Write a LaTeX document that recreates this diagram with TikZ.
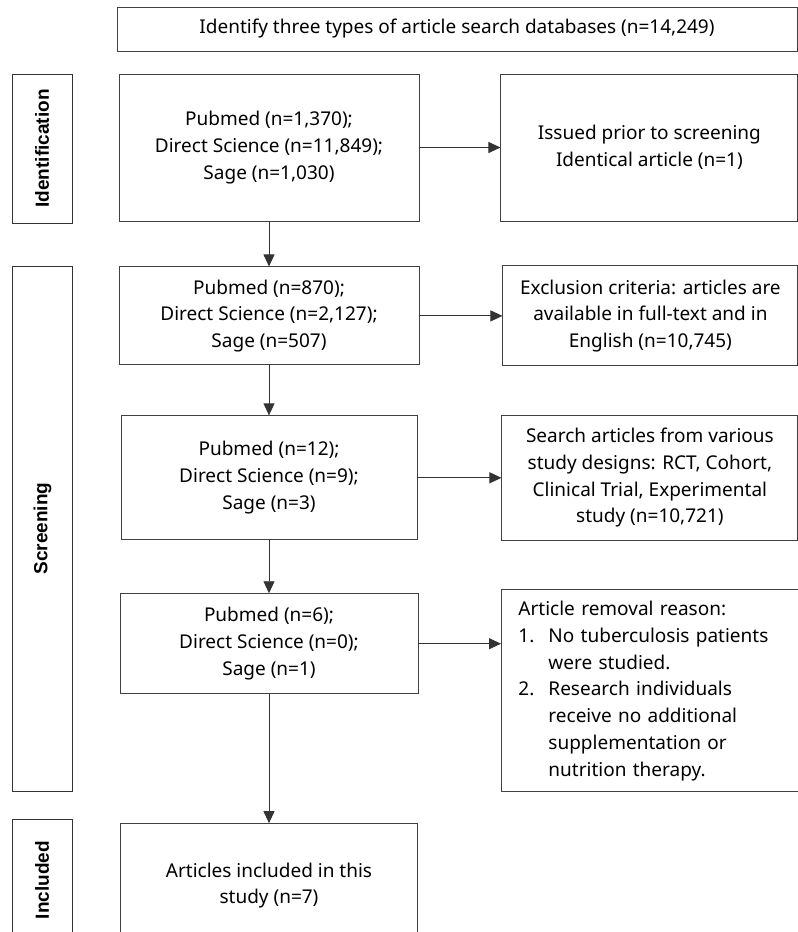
\documentclass[tikz,border=0pt]{standalone}
\usepackage{fontspec}
\setmainfont{Noto Sans}
\newfontfamily\sidefont{Liberation Sans}
\usetikzlibrary{arrows.meta,positioning}

\begin{document}
\begin{tikzpicture}[x=1pt,y=-1pt,
    font=\fontsize{19}{26.8}\selectfont,
    box/.style={draw=black!75,line width=0.9pt,align=center,inner sep=4pt},
    side/.style={draw=black!80,line width=1pt,rotate=90,minimum height=60pt,
      font=\sidefont\bfseries\fontsize{19}{22}\selectfont},
    arr/.style={-{Triangle[length=12pt,width=11pt]},line width=0.9pt,draw=black!80}]
 \useasboundingbox (0,0) rectangle (798,932);
 \clip (0,0) rectangle (798,932);
 % top banner
 \node[box,minimum width=680pt,minimum height=44pt] (TOP) at (457,29)
  {Identify three types of article search databases (n=14,249)};
 % main column
 \node[box,minimum width=300pt,minimum height=147pt] (S1) at (269,147.5)
  {Pubmed (n=1,370);\\ Direct Science (n=11,849);\\ Sage (n=1,030)};
 \node[box,below=45pt of S1,minimum width=300pt,minimum height=98pt] (S2)
  {Pubmed (n=870);\\ Direct Science (n=2,127);\\ Sage (n=507)};
 \node[box,below=50pt of S2,minimum width=296pt,minimum height=124pt] (S3)
  {Pubmed (n=12);\\ Direct Science (n=9);\\ Sage (n=3)};
 \node[box,below=53pt of S3,minimum width=298pt,minimum height=100pt] (S4)
  {Pubmed (n=6);\\ Direct Science (n=0);\\ Sage (n=1)};
 \node[box,below=129pt of S4,minimum width=297pt,minimum height=124pt] (S5)
  {Articles included in this\\ study (n=7)};
 % excluded column
 \node[box,right=81pt of S1,minimum width=297pt,minimum height=147pt] (R1)
  {Issued prior to screening\\ Identical article (n=1)};
 \node[box,right=83pt of S2,minimum width=295pt,minimum height=100pt] (R2)
  {Exclusion criteria: articles are\\ available in full-text and in\\ English (n=10,745)};
 \node[box,right=84pt of S3,minimum width=296pt,minimum height=125pt] (R3)
  {Search articles from various\\ study designs: RCT, Cohort,\\ Clinical Trial, Experimental\\ study (n=10,721)};
 \node[box,anchor=north west,align=left,text width=263pt,inner xsep=17pt,
  minimum height=202pt] (R4) at (501,589)
  {\begin{tabular}{@{}p{30pt}@{}l@{}}
   \multicolumn{2}{@{}l@{}}{Article removal reason:}\\
   1. & No tuberculosis patients\\
      & were studied.\\
   2. & Research individuals\\
      & receive no additional\\
      & supplementation or\\
      & nutrition therapy.
  \end{tabular}};
 % phase labels
 \node[side,minimum width=149pt] (L1) at (42,148.5) {Identification};
 \node[side,minimum width=525pt] (L2) at (42.5,528.5) {Screening};
 \node[side,minimum width=122pt] (L3) at (42,880) {Included};
 % arrows
 \foreach \A/\B in {S1/S2,S2/S3,S3/S4,S4/S5} {\draw[arr] (\A) -- (\B);}
 \foreach \A/\B in {S1/R1,S2/R2,S3/R3} {\draw[arr] (\A.east) -- (\A.east -| \B.west);}
 \draw[arr] (S4.east) -- (S4.east -| R4.west);
\end{tikzpicture}
\end{document}
